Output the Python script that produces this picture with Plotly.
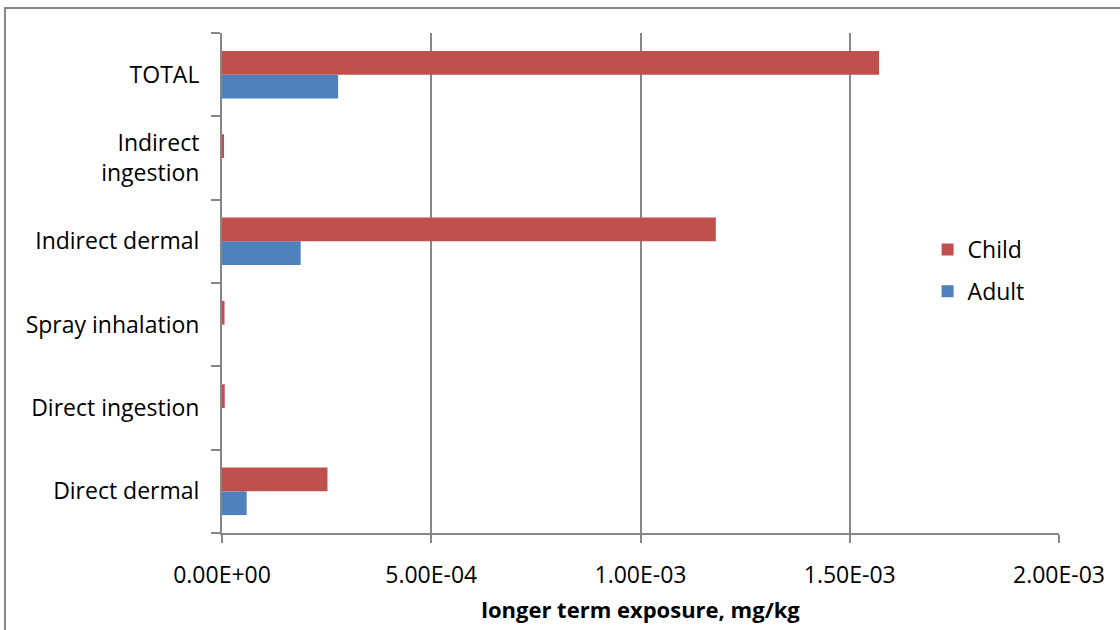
import plotly.graph_objects as go

# Exposure routes, listed bottom to top
categories = ["Direct dermal", "Direct ingestion", "Spray inhalation",
              "Indirect dermal", "Indirect<br>ingestion", "TOTAL"]

# Longer term exposure, mg/kg
child = [2.52e-4, 6.5e-6, 6.0e-6, 1.180e-3, 4.0e-6, 1.570e-3]
adult = [5.9e-5, 0, 0, 1.88e-4, 0, 2.775e-4]

x_ticks = [0, 5e-4, 1e-3, 1.5e-3, 2e-3]
x_tick_labels = ["0.00E+00", "5.00E-04", "1.00E-03", "1.50E-03", "2.00E-03"]

GRID = "#868686"
FONT = "Open Sans, DejaVu Sans, sans-serif"

fig = go.Figure()
fig.add_trace(go.Bar(y=categories, x=adult, name="Adult", orientation="h",
                     legendgroup="adult", legendrank=2,
                     marker=dict(color="#4F81BD", line=dict(width=0))))
fig.add_trace(go.Bar(y=categories, x=child, name="Child", orientation="h",
                     legendgroup="child", legendrank=1,
                     marker=dict(color="#C0504D", line=dict(width=0))))

fig.update_layout(
    width=1120, height=630,
    margin=dict(l=222, r=61, t=33, b=97),
    barmode="group", bargap=0.43, bargroupgap=0,
    plot_bgcolor="white", paper_bgcolor="white",
    font=dict(family=FONT, size=23, color="#000000"),
    showlegend=True,
    legend=dict(x=0.843, y=0.525, xanchor="left", yanchor="middle",
                traceorder="grouped", font=dict(size=23),
                bgcolor="rgba(0,0,0,0)", itemwidth=30, tracegroupgap=9,
                itemsizing="constant"),
    xaxis=dict(
        range=[0, 2e-3], tickvals=x_ticks, ticktext=x_tick_labels,
        showgrid=True, gridcolor=GRID, gridwidth=2,
        showline=True, linecolor=GRID, linewidth=2,
        ticks="outside", ticklen=8, tickwidth=2, tickcolor=GRID,
        zeroline=False, tickfont=dict(size=23), ticklabelstandoff=12,
        title=dict(text="<b>longer term exposure, mg/kg</b>",
                   font=dict(size=22), standoff=14),
    ),
    yaxis=dict(
        categoryorder="array", categoryarray=categories,
        showgrid=False, showline=True, linecolor=GRID, linewidth=2,
        ticks="outside", ticklen=9, tickwidth=2, tickcolor=GRID,
        tickson="boundaries", tickfont=dict(size=23),
        ticklabelstandoff=16, layer="above traces",
    ),
    shapes=[dict(type="rect", xref="paper", yref="paper",
                 x0=-0.2593, x1=1.09, y0=-0.25, y1=1.05,
                 line=dict(color=GRID, width=2), layer="below")],
)

fig.write_html("out.html")
